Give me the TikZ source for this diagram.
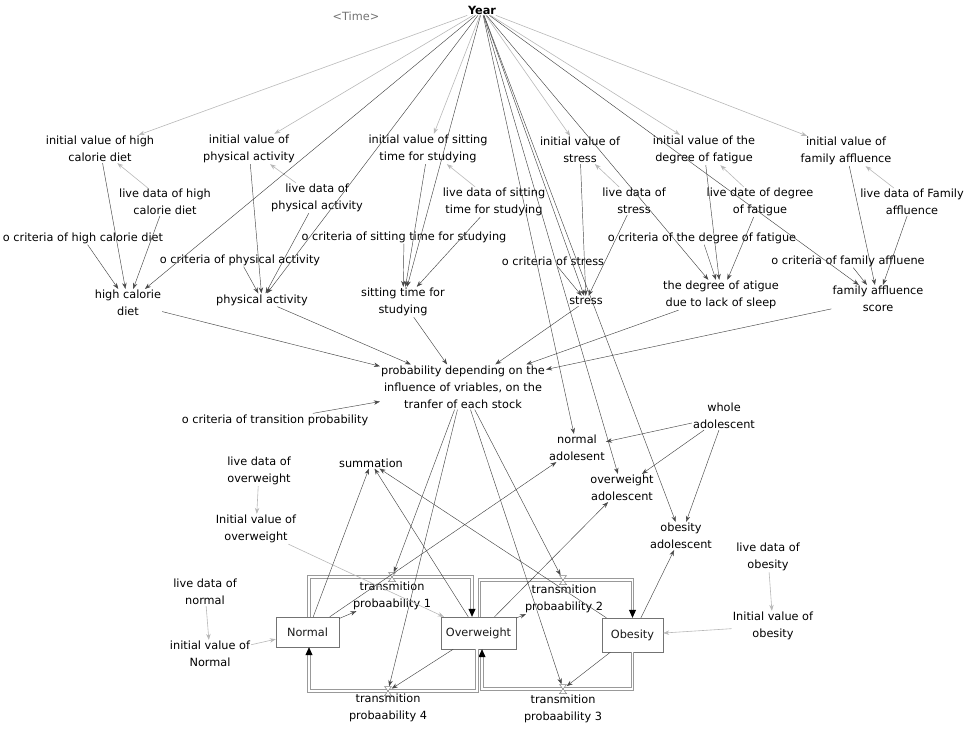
\documentclass[tikz,border=0pt]{standalone}
\usepackage{fontspec}
\setmainfont{DejaVu Sans}
\usepackage{xcolor}
\usepackage{tikz}
\usetikzlibrary{arrows.meta,positioning,calc}

\tikzset{
  var/.style={align=center, inner sep=1pt, text=black},
  stock/.style={draw=black!55, fill=white, inner sep=2pt, text=black!90},
  valve/.style={inner sep=0pt, minimum width=7pt, minimum height=9pt},
  link/.style={->, draw=black!72, line width=0.45pt},
  glink/.style={->, draw=black!28, line width=0.6pt},
  pipe/.style={draw=black!40, double=white, double distance=1.6pt, line width=0.8pt,
    -{Triangle[length=8pt,width=7pt,color=black]}}
}

\begin{document}
\begin{tikzpicture}[x=1pt, y=-1pt, >={Stealth[length=6pt,width=4.4pt]},
    every node/.append style={font=\fontsize{11.3}{17}\selectfont}]
    \useasboundingbox (0,0) rectangle (968,729);

    \node [var, font=\fontsize{11.3}{17}\selectfont\bfseries] (yr) at (482,10) {Year};
    \node [var, text=black!55] (tm) at (356,16) {<Time>};

    \node [var] (ivHCD) at (100,149) {initial value of high\\calorie diet};
    \node [var] (ivPA) at (249,149) {initial value of\\physical activity};
    \node [var] (ivST) at (428,149) {initial value of sitting\\time for studying};
    \node [var] (ivS) at (580,150) {initial value of\\stress};
    \node [var] (ivF) at (704,150) {initial value of the\\degree of fatigue};
    \node [var] (ivFA) at (846,151) {initial value of\\family affluence};

    \node [var] (ldHCD) at (165,202) {live data of high\\calorie diet};
    \node [var] (ldPA) at (317,198) {live data of\\physical activity};
    \node [var] (ldST) at (494,202) {live data of sitting\\time for studying};
    \node [var] (ldS) at (634,201) {live data of\\stress};
    \node [var] (ldF) at (760,202) {live date of degree\\of fatigue};
    \node [var] (ldFA) at (912,202) {live data of Family\\affluence};

    \node [var] (cHCD) at (83,238) {o criteria of high calorie diet};
    \node [var] (cPA) at (240,260) {o criteria of physical activity};
    \node [var] (cST) at (404,237) {o criteria of sitting time for studying};
    \node [var] (cS) at (553,261) {o criteria of stress};
    \node [var] (cF) at (702,238) {o criteria of the degree of fatigue};
    \node [var] (cFA) at (848,261) {o criteria of family affluene};

    \node [var] (HCD) at (128,303) {high calorie\\diet};
    \node [var] (PA) at (262,300) {physical activity};
    \node [var] (ST) at (403,302) {sitting time for\\studying};
    \node [var] (S) at (586,301) {stress};
    \node [var] (F) at (721,295) {the degree of atigue\\due to lack of sleep};
    \node [var] (FA) at (878,299) {family affluence\\score};

    \node [var] (P) at (463,387) {probability depending on the\\influence of vriables, on the\\tranfer of each stock};
    \node [var] (cTP) at (275,420) {o criteria of transition probability};

    \node [var] (wa) at (724,416) {whole\\adolescent};
    \node [var] (na) at (577,448) {normal\\adolesent};
    \node [var] (oa) at (622,488) {overweight\\adolescent};
    \node [var] (ob) at (681,536) {obesity\\adolescent};
    \node [var] (summ) at (371,463) {summation};

    \node [var] (ldOW) at (259,471) {live data of\\overweight};
    \node [var] (ivOW) at (256,529) {Initial value of\\overweight};
    \node [var] (ldN) at (205,592) {live data of\\normal};
    \node [var] (ivN) at (210,654) {initial value of\\Normal};
    \node [var] (ldOB) at (768,557) {live data of\\obesity};
    \node [var] (ivOB) at (773,626) {Initial value of\\obesity};

    \node [valve] (v1) at (392,577) {};
    \node [valve] (v2) at (563,580) {};
    \node [valve] (v3) at (563,689) {};
    \node [valve] (v4) at (388,691) {};
    \node [var] (tp1) at (392,596) {transmition\\probaability 1};
    \node [var] (tp2) at (564,599) {transmition\\probaability 2};
    \node [var] (tp3) at (563,709) {transmition\\probaability 3};
    \node [var] (tp4) at (388,708) {transmition\\probaability 4};

    \node [stock, minimum width=63pt, minimum height=30pt] (nor) at (307.5,632) {Normal};
    \node [stock, minimum width=75pt, minimum height=32pt] (ovw) at (478.5,633) {Overweight};
    \node [stock, minimum width=61pt, minimum height=34pt] (obs) at (632.5,635) {Obesity};

    \draw [pipe] ([xshift=1.5pt]nor.north) |- (v1.center) -| ([xshift=-6.5pt]ovw.north);
    \draw [pipe] ([xshift=1pt]ovw.north) |- (v2.center) -| (obs.north);
    \draw [pipe] (obs.south) |- (v3.center) -| ([xshift=3.5pt]ovw.south);
    \draw [pipe] ([xshift=-1.5pt]ovw.south) |- (v4.center) -| ([xshift=1.5pt]nor.south);
    \foreach \v in {v1,v2,v3,v4}
        \draw [black!50, fill=white, line width=0.5pt] ([xshift=-3.5pt,yshift=4.5pt]\v.center)
            -- ++(7pt,0pt) -- ++(-7pt,-9pt) -- ++(7pt,0pt) -- cycle;

    \foreach \a/\b in {yr/ivHCD,yr/ivPA,yr/ivST,yr/ivS,yr/ivF,yr/ivFA,
        ldHCD/ivHCD,ldPA/ivPA,ldST/ivST,ldS/ivS,ldF/ivF,ldFA/ivFA,
        ldOW/ivOW,ivOW/ovw,ldN/ivN,ivN/nor,ldOB/ivOB,ivOB/obs}
        \draw [glink] (\a) -- (\b);

    \foreach \x in {HCD,PA,ST,S,F,FA} {
        \draw [link] (yr) -- (\x);
        \draw [link] (iv\x) -- (\x);
        \draw [link] (ld\x) -- (\x);
        \draw [link] (c\x) -- (\x);
        \draw [link] (\x) -- (P);
    }

    \foreach \a/\b in {cTP/P,P/v1,P/v2,P/v3,P/v4,yr/na,yr/oa,yr/ob,wa/na,wa/oa,wa/ob,
        nor/na,ovw/oa,obs/ob,nor/summ,ovw/summ,obs/summ,nor/tp1,ovw/tp2,ovw/v4,obs/v3}
        \draw [link] (\a) -- (\b);
\end{tikzpicture}
\end{document}
